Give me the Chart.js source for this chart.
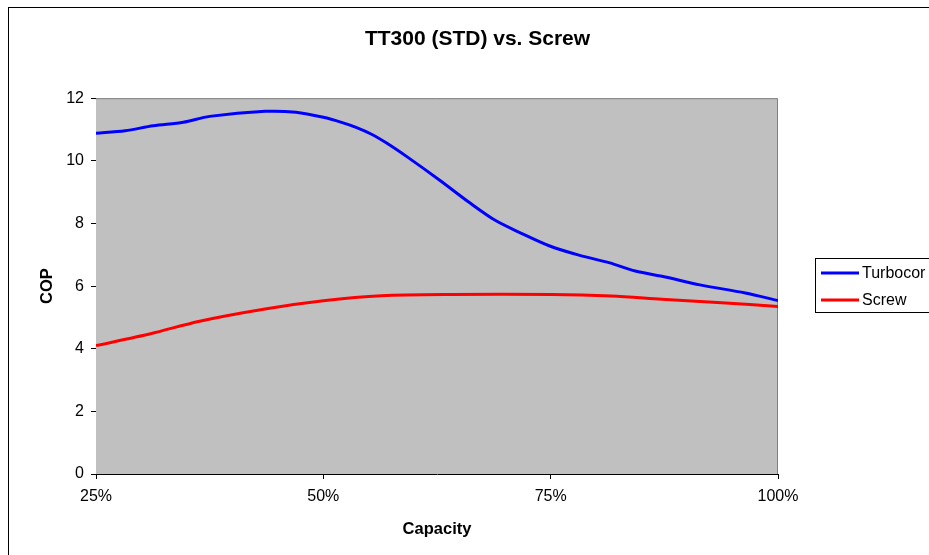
<!DOCTYPE html>
<html>
<head>
<meta charset="utf-8">
<script src="https://cdn.jsdelivr.net/npm/chart.js@4.4.0/dist/chart.umd.min.js"></script>
<style>
  html, body { margin: 0; padding: 0; background: #fff; overflow: hidden; }
  .frame {
    position: absolute; left: 8px; top: 7px;
    width: 937px; height: 548px;
    border-left: 1px solid #000; border-top: 1px solid #000;
  }
  canvas { display: block; }
</style>
</head>
<body>
<div class="frame"><canvas id="chart" width="937" height="548"></canvas></div>
<script>
// capacity (%) and COP
const turbocorCap = [25, 28.2, 31.3, 34.6, 37.5, 43.6, 47, 50, 52, 53.6, 55.3, 57, 59.3, 62.8, 66.1, 68.9, 71.6, 74.9, 78.2, 81.5, 84.3, 87.6, 91.4, 96.4, 100];
const turbocorCop = [10.88, 10.96, 11.12, 11.23, 11.42, 11.58, 11.55, 11.39, 11.23, 11.07, 10.85, 10.56, 10.11, 9.38, 8.66, 8.1, 7.71, 7.28, 6.98, 6.74, 6.48, 6.29, 6.04, 5.78, 5.54];

const screwCap = [25, 31, 36.4, 43.6, 50, 56.4, 64.1, 75.1, 81.7, 87.2, 93.8, 100];
const screwCop = [4.1, 4.48, 4.88, 5.27, 5.53, 5.69, 5.73, 5.73, 5.68, 5.58, 5.47, 5.35];

const xTicks = [25, 50, 75, 100];
const yMax = 12;

const toPoints = (xs, ys) => xs.map((x, i) => ({ x: x, y: ys[i] }));

const font = "'Liberation Sans', Arial, sans-serif";

// gray plot area + legend box
const plotArea = {
  id: "plotArea",
  beforeDatasetsDraw(chart) {
    const { ctx, chartArea: a } = chart;
    ctx.save();
    ctx.fillStyle = "#c0c0c0";
    ctx.fillRect(a.left, a.top, a.right - a.left, a.bottom - a.top);
    ctx.strokeStyle = "#808080";
    ctx.lineWidth = 1;
    ctx.beginPath();
    ctx.moveTo(a.left, a.top + 0.5);
    ctx.lineTo(a.right - 0.5, a.top + 0.5);
    ctx.lineTo(a.right - 0.5, a.bottom);
    ctx.stroke();
    ctx.restore();
  },
  afterDraw(chart) {
    const ctx = chart.ctx;
    ctx.save();
    ctx.strokeStyle = "#000";
    ctx.lineWidth = 1;
    ctx.strokeRect(806.5, 250.5, 140, 54);
    ctx.font = "16px " + font;
    ctx.textBaseline = "middle";
    chart.data.datasets.forEach((ds, i) => {
      const y = 265 + i * 27;
      ctx.strokeStyle = ds.borderColor;
      ctx.lineWidth = 3;
      ctx.beginPath();
      ctx.moveTo(812, y);
      ctx.lineTo(850, y);
      ctx.stroke();
      ctx.fillStyle = "#000";
      ctx.fillText(ds.label, 853, y + 1);
    });
    ctx.restore();
  },
};

new Chart(document.getElementById("chart"), {
  type: "line",
  data: {
    datasets: [
      {
        label: "Turbocor",
        data: toPoints(turbocorCap, turbocorCop),
        borderColor: "#0000ff",
        borderWidth: 3,
        pointRadius: 0,
        tension: 0.3,
      },
      {
        label: "Screw",
        data: toPoints(screwCap, screwCop),
        borderColor: "#ff0000",
        borderWidth: 3,
        pointRadius: 0,
        tension: 0.3,
      },
    ],
  },
  options: {
    responsive: false,
    animation: false,
    layout: { padding: 0 },
    plugins: {
      legend: { display: false },
      tooltip: { enabled: false },
      title: {
        display: true,
        text: "TT300 (STD) vs. Screw",
        color: "#000",
        font: { family: font, size: 21, weight: "bold" },
        padding: { top: 19, bottom: 46 },
      },
    },
    scales: {
      x: {
        type: "linear",
        min: 25,
        max: 100,
        afterBuildTicks: (s) => { s.ticks = xTicks.map((v) => ({ value: v })); },
        afterFit: (s) => { s.height = 82; },
        ticks: {
          color: "#000",
          font: { family: font, size: 16 },
          padding: 8,
          maxRotation: 0,
          callback: (v) => v + "%",
        },
        grid: { drawOnChartArea: false, drawTicks: true, tickLength: 5, color: "#000" },
        border: { color: "#000", width: 1 },
        title: {
          display: true,
          text: "Capacity",
          color: "#000",
          font: { family: font, size: 16.5, weight: "bold" },
          padding: { top: 0, bottom: 17 },
        },
      },
      y: {
        min: 0,
        max: yMax,
        afterFit: (s) => { s.width = 87; },
        ticks: {
          stepSize: 2,
          color: "#000",
          font: { family: font, size: 16 },
          padding: 7,
        },
        grid: { drawOnChartArea: false, drawTicks: true, tickLength: 5, color: "#000" },
        border: { color: "#000", width: 1 },
        title: {
          display: true,
          text: "COP",
          color: "#000",
          font: { family: font, size: 16.5, weight: "bold" },
          padding: { top: 29, bottom: 0 },
        },
      },
      // empty right-hand space that holds the legend
      legendSpace: {
        position: "right",
        display: true,
        afterFit: (s) => { s.width = 168; },
        ticks: { display: false },
        grid: { display: false },
        border: { display: false },
      },
    },
  },
  plugins: [plotArea],
});
</script>
</body>
</html>
